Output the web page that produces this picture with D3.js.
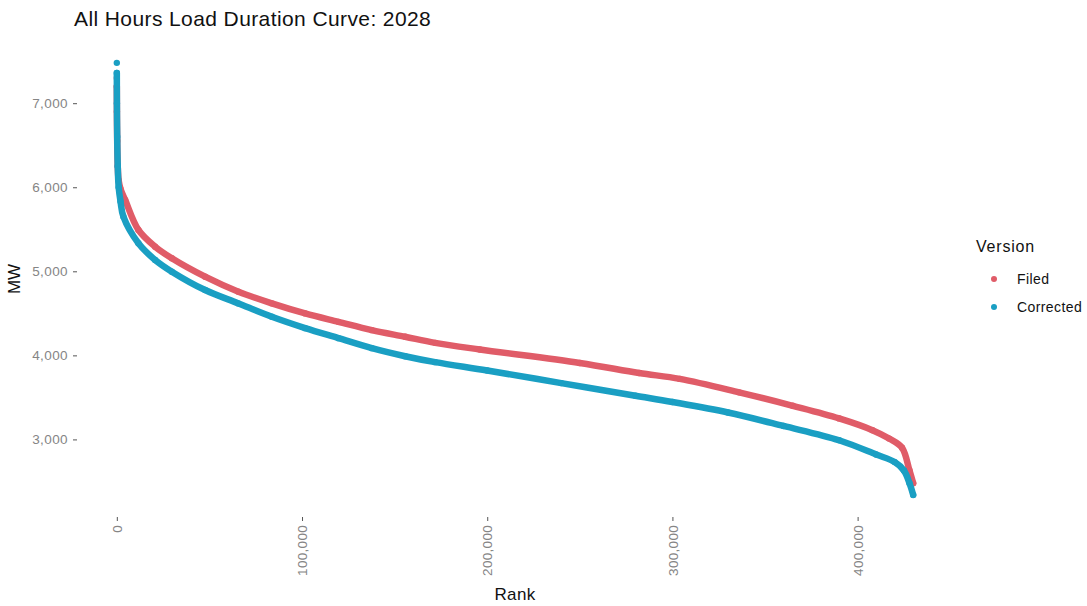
<!DOCTYPE html>
<html><head><meta charset="utf-8">
<script src="https://cdn.jsdelivr.net/npm/d3@7"></script>
<style>body{margin:0;background:#fff}svg{display:block}</style>
</head><body>
<svg id="chart" width="1087" height="606"></svg>
<script>
// ---- data ----
const filedRank = [0, 5, 50, 200, 500, 1000, 2000, 4480, 11660, 20680, 29700, 47680, 65660, 83700, 101700, 119650, 137700, 155670, 171900, 196000, 250000, 282000, 304000, 336000, 365000, 390000, 408000, 417000, 424000, 428000, 430000];
const filedMW   = [7300, 7200, 6900, 6550, 6250, 6080, 5980, 5850, 5492, 5293, 5155, 4936, 4757, 4619, 4499, 4399, 4300, 4221, 4149, 4070, 3910, 3790, 3720, 3560, 3400, 3250, 3110, 3010, 2900, 2630, 2480];
const correctedRank = [0, 5, 50, 200, 500, 1000, 2000, 3560, 11660, 20680, 29700, 47680, 65660, 83700, 101700, 119650, 137700, 155670, 171900, 200000, 240000, 280000, 300000, 330000, 360000, 390000, 410000, 420000, 425000, 428000, 430000];
const correctedMW   = [7480, 7360, 7000, 6600, 6250, 6000, 5830, 5650, 5334, 5135, 4996, 4777, 4618, 4459, 4324, 4205, 4086, 3990, 3919, 3820, 3670, 3520, 3445, 3320, 3160, 2990, 2820, 2730, 2630, 2480, 2340];
const seriesNames = ["Filed", "Corrected"];
const seriesColors = ["#E05C68", "#1A9FC3"];
const xTicks = [0, 100000, 200000, 300000, 400000];
const yTicks = [3000, 4000, 5000, 6000, 7000];

const svg = d3.select("#chart");
const FONT = "Liberation Sans, Arial, sans-serif";
const margin = {left: 77, right: 134, top: 41, bottom: 89};
const W = 1087, H = 606;
const x = d3.scaleLinear().domain([-21500, 451500]).range([margin.left, W - margin.right]);
const y = d3.scaleLinear().domain([2077, 7740]).range([H - margin.bottom, margin.top]);

const fmt = d3.format(",");
const tickColor = "#858585";

// y axis
const yAxis = svg.append("g").attr("transform", `translate(${margin.left},0)`)
  .call(d3.axisLeft(y).tickValues(yTicks).tickFormat(fmt).tickSize(4).tickPadding(5));
yAxis.select(".domain").remove();
yAxis.selectAll("line").attr("stroke", "#555").attr("stroke-width", 1);
yAxis.selectAll("text").attr("fill", tickColor).style("font-family", FONT)
  .style("font-size", "13.5px").style("letter-spacing", "0.4px");

// x axis
const xAxis = svg.append("g").attr("transform", `translate(0,${H - margin.bottom})`)
  .call(d3.axisBottom(x).tickValues(xTicks).tickFormat(fmt).tickSize(4).tickPadding(4));
xAxis.select(".domain").remove();
xAxis.selectAll("line").attr("stroke", "#555").attr("stroke-width", 1);
xAxis.selectAll("text").attr("fill", tickColor)
  .style("font-family", FONT).style("font-size", "13.5px").style("letter-spacing", "0.3px")
  .attr("transform", "rotate(-90)").attr("text-anchor", "end")
  .attr("x", -8).attr("y", 0).attr("dy", "0.35em");

// series
const series = [
  {name: seriesNames[0], color: seriesColors[0], pts: filedRank.map((r, i) => [r, filedMW[i]])},
  {name: seriesNames[1], color: seriesColors[1], pts: correctedRank.map((r, i) => [r, correctedMW[i]])}
];
const line = d3.line().x(d => x(d[0])).y(d => y(d[1])).curve(d3.curveCatmullRom.alpha(0.5));
series.forEach(s => {
  svg.append("path").datum(s.pts.slice(1))
    .attr("d", line)
    .attr("fill", "none").attr("stroke", s.color).attr("stroke-width", 6.5)
    .attr("stroke-linecap", "round").attr("stroke-linejoin", "round");
  svg.append("g").selectAll("circle").data(s.pts).join("circle")
    .attr("cx", d => x(d[0])).attr("cy", d => y(d[1])).attr("r", 3.2).attr("fill", s.color);
});

// title
svg.append("text").attr("x", 74).attr("y", 26).text("All Hours Load Duration Curve: 2028")
  .style("font-family", FONT).style("font-size", "21px").style("letter-spacing", "0.4px").attr("fill", "#111");

// axis titles
svg.append("text").attr("x", 515).attr("y", 600).attr("text-anchor", "middle")
  .text("Rank").style("font-family", FONT).style("font-size", "17px").style("letter-spacing", "0.3px").attr("fill", "#111");
svg.append("text").attr("transform", `translate(20,${(margin.top + H - margin.bottom) / 2}) rotate(-90)`)
  .attr("text-anchor", "middle").text("MW")
  .style("font-family", FONT).style("font-size", "17px").attr("fill", "#111");

// legend
const lg = svg.append("g").attr("transform", "translate(976,0)");
lg.append("text").attr("x", 0).attr("y", 252).text("Version")
  .style("font-family", FONT).style("font-size", "16px").style("letter-spacing", "0.8px").attr("fill", "#111");
series.forEach((s, i) => {
  const cy = 279 + i * 28;
  lg.append("circle").attr("cx", 18).attr("cy", cy).attr("r", 3).attr("fill", s.color);
  lg.append("text").attr("x", 41).attr("y", cy).attr("dy", "0.35em").text(s.name)
    .style("font-family", FONT).style("font-size", "14px").style("letter-spacing", "0.4px").attr("fill", "#111");
});
</script>
</body></html>
